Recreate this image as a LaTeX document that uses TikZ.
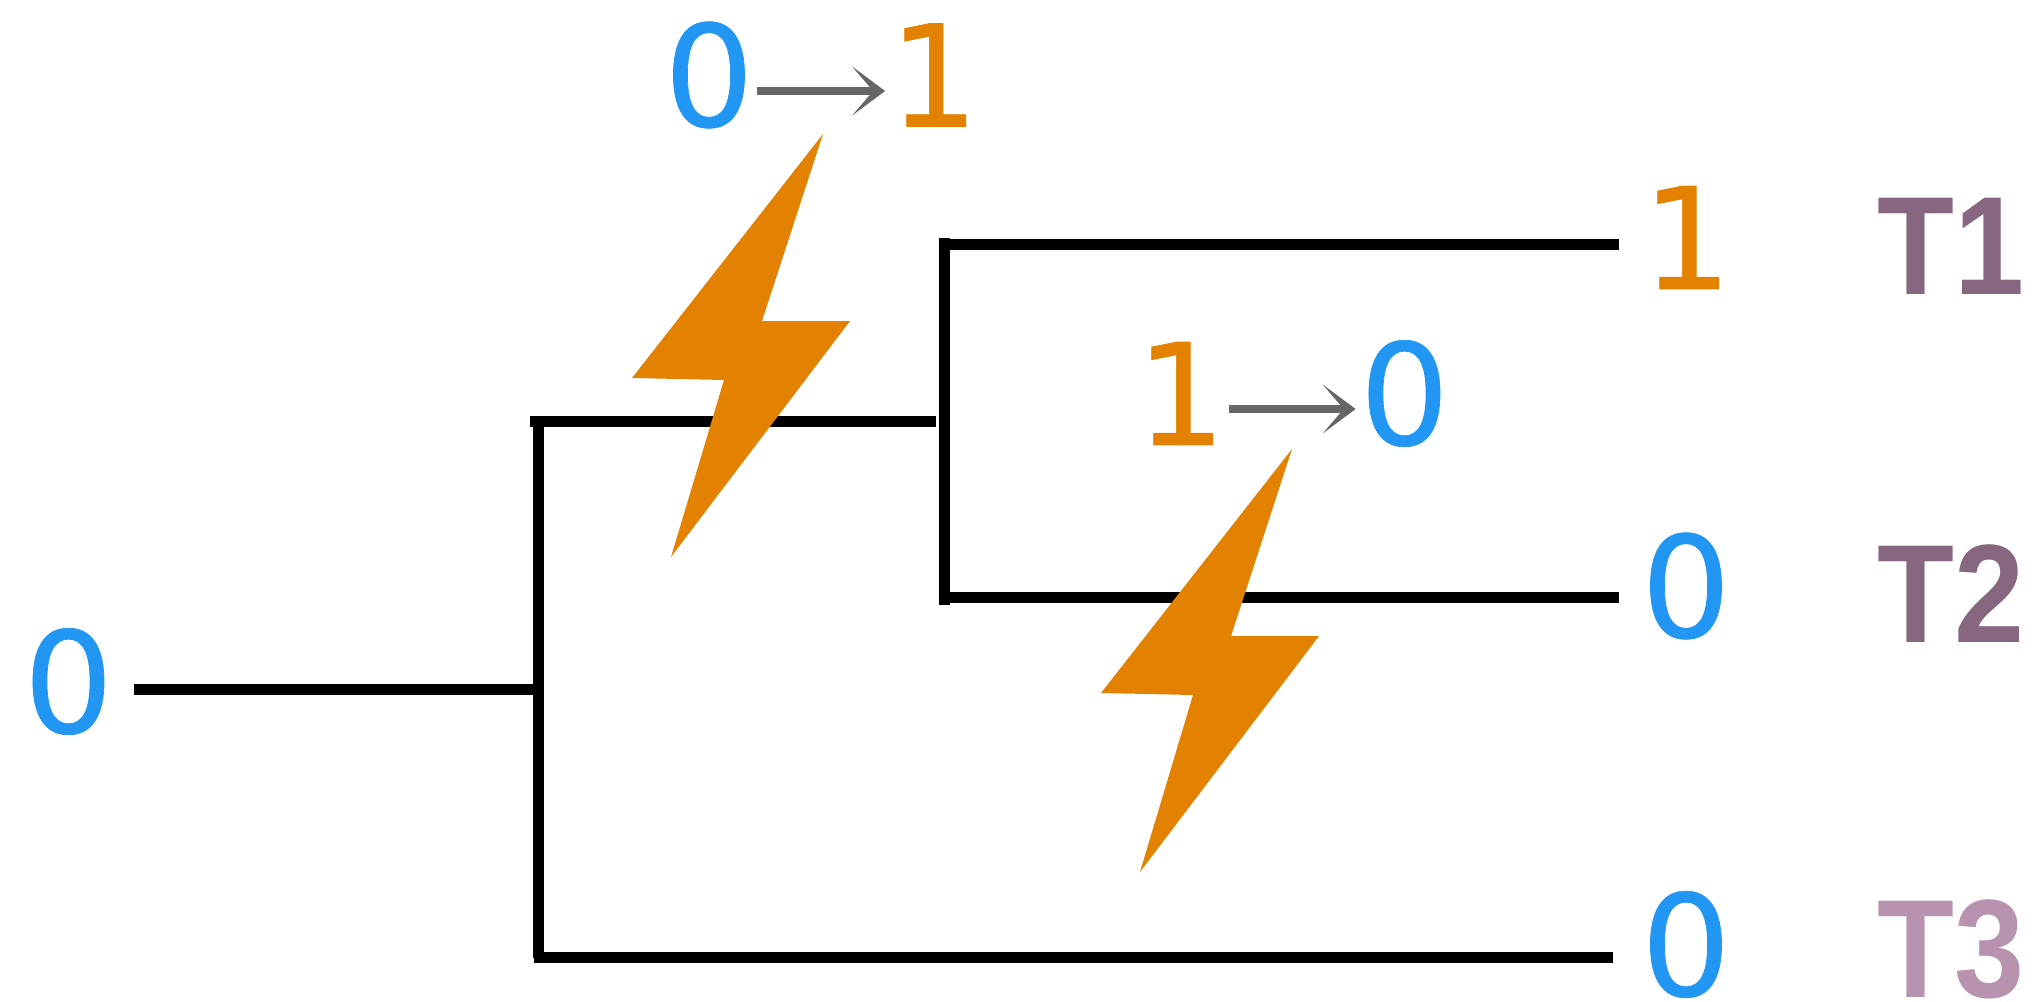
\documentclass[tikz,border=0pt]{standalone}
\usepackage{fontspec}
\usepackage{tikz}
\usetikzlibrary{arrows.meta, positioning, calc}
\newfontfamily\digitfont[FakeBold=0.5]{DejaVu Sans}
\newfontfamily\trialfont[FakeStretch=0.9]{Liberation Sans Bold}
\definecolor{bitblue}{RGB}{33, 150, 243}
\definecolor{bitorange}{RGB}{227, 130, 0}
\definecolor{flipgray}{RGB}{102, 102, 102}
\definecolor{trialdark}{RGB}{134, 103, 127}
\definecolor{triallight}{RGB}{183, 147, 176}
\tikzset{
    bitnode/.style={inner sep=0pt, outer sep=0pt, font=\digitfont\fontsize{141}{141}\selectfont},
    trialnode/.style={inner sep=0pt, outer sep=0pt, anchor=base west, font=\trialfont\fontsize{140}{140}\selectfont},
    branch/.style={line width=11pt, black},
    flip/.style={line width=8pt, flipgray, -{Stealth[length=33pt, width=49pt, inset=21pt]}},
    zap/.pic={\fill[bitorange] (0,0) -- (-61,187) -- (27,187) -- (-152,423) -- (-99,246) -- (-191,244) -- cycle;}
}

\begin{document}
\begin{tikzpicture}[x=1pt, y=-1pt]
    \useasboundingbox (0,0) rectangle (2039,1001);

    \node[bitnode, text=bitblue] (root) at (68.5,681.5) {0};
    \node[bitnode, text=bitorange] (leafa) at (1687,237.5) {1};
    \node[bitnode, text=bitblue] (leafb) at (1686,586) {0};
    \node[bitnode, text=bitblue] (leafc) at (1686,944.5) {0};

    \node[trialnode, text=trialdark] (triala) at (1877,294) {T1};
    \node[trialnode, text=trialdark] (trialb) at (1877,642) {T2};
    \node[trialnode, text=triallight] (trialc) at (1877,997) {T3};

    \node[bitnode, text=bitblue] (flipafrom) at (709,75) {0};
    \node[bitnode, text=bitorange] (flipato) at (934,75) {1};
    \node[bitnode, text=bitorange] (flipbfrom) at (1181,393.5) {1};
    \node[bitnode, text=bitblue] (flipbto) at (1404.5,393.5) {0};

    \coordinate (rootend) at (134,689.5);
    \coordinate (splita) at (538.5,689.5);
    \coordinate (splitatop) at (538.5,427);
    \coordinate (splitabot) at (538.5,958);
    \coordinate (uppera) at (530,421.5);
    \coordinate (upperb) at (936,421.5);
    \coordinate (splitbtop) at (944,238);
    \coordinate (splitbbot) at (944,605);
    \coordinate (tipa) at (944,244.5);
    \coordinate (tipb) at (944,597.5);
    \coordinate (tipc) at (534,957.5);

    \draw[branch] (rootend) -- (splita);
    \draw[branch] (splitatop) -- (splitabot);
    \draw[branch] (uppera) -- (upperb);
    \draw[branch] (splitbtop) -- (splitbbot);
    \draw[branch, shorten >=23pt] (tipa) -- (leafa.west |- tipa);
    \draw[branch, shorten >=22pt] (tipb) -- (leafb.west |- tipb);
    \draw[branch, shorten >=28pt] (tipc) -- (leafc.west |- tipc);

    \draw[flip, shorten <=3pt, shorten >=4pt] ([yshift=-16pt]flipafrom.east) -- ([yshift=-16pt]flipato.west);
    \draw[flip, shorten <=3pt, shorten >=4pt] ([yshift=-15.5pt]flipbfrom.east) -- ([yshift=-15.5pt]flipbto.west);

    \pic at (823,134) {zap};
    \pic at (1292,449) {zap};
\end{tikzpicture}
\end{document}
